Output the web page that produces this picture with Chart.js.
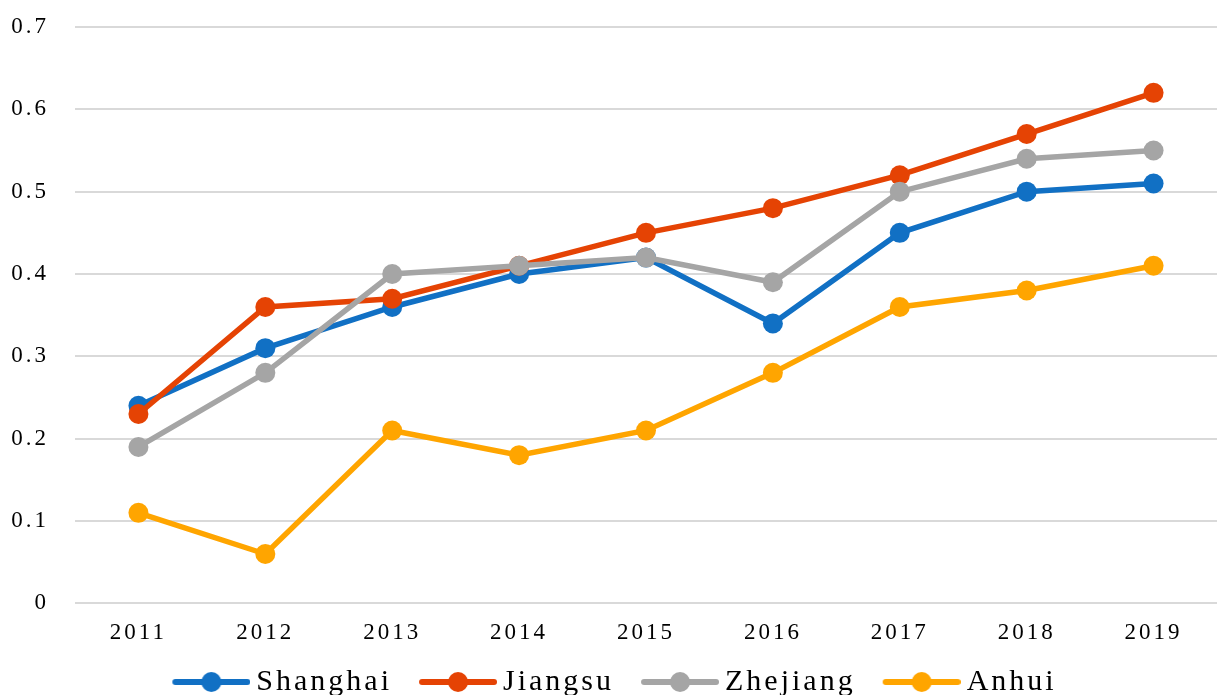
<!DOCTYPE html>
<html lang="en">
<head>
    <meta charset="UTF-8">
    <title>Regional index 2011-2019</title>
    <script src="https://cdn.jsdelivr.net/npm/chart.js"></script>
    <style>
        html, body { margin: 0; padding: 0; overflow: hidden; background: #fff; }
        #box { width: 1227px; height: 707px; }
    </style>
</head>
<body>
    <div id="box"><canvas id="lineChart"></canvas></div>
    <script>
        // data
        var years = ['2011', '2012', '2013', '2014', '2015', '2016', '2017', '2018', '2019'];
        var shanghai = [0.24, 0.31, 0.36, 0.40, 0.42, 0.34, 0.45, 0.50, 0.51];
        var jiangsu  = [0.23, 0.36, 0.37, 0.41, 0.45, 0.48, 0.52, 0.57, 0.62];
        var zhejiang = [0.19, 0.28, 0.40, 0.41, 0.42, 0.39, 0.50, 0.54, 0.55];
        var anhui    = [0.11, 0.06, 0.21, 0.18, 0.21, 0.28, 0.36, 0.38, 0.41];

        var colors = ['#1170c4', '#e54304', '#a5a5a5', '#ffa500'];

        // line + dot picture for the legend; the left part is left empty
        // so it works as the gap between legend items
        function legendIcon(color) {
            var c = document.createElement('canvas');
            c.width = 110; c.height = 22;
            var g = c.getContext('2d');
            g.strokeStyle = color;
            g.lineWidth = 6;
            g.lineCap = 'round';
            g.beginPath(); g.moveTo(35, 11); g.lineTo(107, 11); g.stroke();
            g.fillStyle = color;
            g.beginPath(); g.arc(71, 11, 10, 0, Math.PI * 2); g.fill();
            return c;
        }
        var icons = colors.map(legendIcon);

        // Chart.js has no letter spacing option, so set it on the context
        var spacing = {
            id: 'spacing',
            beforeUpdate: function(chart) { chart.ctx.letterSpacing = '3px'; },
            beforeLayout: function(chart) { chart.ctx.letterSpacing = '3px'; },
            afterLayout: function(chart) {
                // the empty lead-in of the first icon pushes the legend right
                if (chart.legend) chart.legend.left -= 21;
            },
            beforeDraw: function(chart) { chart.ctx.letterSpacing = '3px'; }
        };

        function series(label, values, i, order) {
            return {
                label: label,
                data: values,
                borderColor: colors[i],
                backgroundColor: colors[i],
                borderWidth: 5.5,
                pointRadius: 10,
                pointHoverRadius: 10,
                pointBorderWidth: 0,
                tension: 0,
                order: order
            };
        }

        var ctx = document.getElementById('lineChart').getContext('2d');
        var chart = new Chart(ctx, {
            type: 'line',
            data: {
                labels: years,
                datasets: [
                    series('Shanghai', shanghai, 0, 4),
                    series('Jiangsu', jiangsu, 1, 3),
                    series('Zhejiang', zhejiang, 2, 2),
                    series('Anhui', anhui, 3, 1)
                ]
            },
            plugins: [spacing],
            options: {
                responsive: true,
                maintainAspectRatio: false,
                animation: false,
                layout: { padding: { top: 27, left: 0, right: 0, bottom: 0 } },
                plugins: {
                    tooltip: { enabled: false },
                    legend: {
                        position: 'bottom',
                        labels: {
                            usePointStyle: true,
                            pointStyleWidth: 92,
                            boxHeight: 20,
                            padding: 4,
                            color: '#000',
                            font: { family: 'Liberation Serif', size: 30 },
                            sort: function(a, b) { return a.datasetIndex - b.datasetIndex; },
                            generateLabels: function(chart) {
                                var items = Chart.defaults.plugins.legend.labels.generateLabels(chart);
                                items.forEach(function(it) {
                                    it.pointStyle = icons[it.datasetIndex];
                                });
                                return items;
                            }
                        }
                    }
                },
                scales: {
                    x: {
                        offset: true,
                        grid: { display: false, drawTicks: false },
                        border: { display: false },
                        ticks: {
                            color: '#000',
                            padding: 16,
                            font: { family: 'Liberation Serif', size: 23 }
                        }
                    },
                    y: {
                        min: 0,
                        max: 0.7,
                        grid: { color: '#d9d9d9', lineWidth: 2, drawTicks: false },
                        border: { display: false },
                        afterFit: function(scale) {
                            scale.width = 75;
                            scale.paddingTop = 0;
                            scale.paddingBottom = 0;
                        },
                        ticks: {
                            stepSize: 0.1,
                            color: '#000',
                            padding: 26,
                            font: { family: 'Liberation Serif', size: 23 }
                        }
                    }
                }
            }
        });
    </script>
</body>
</html>
